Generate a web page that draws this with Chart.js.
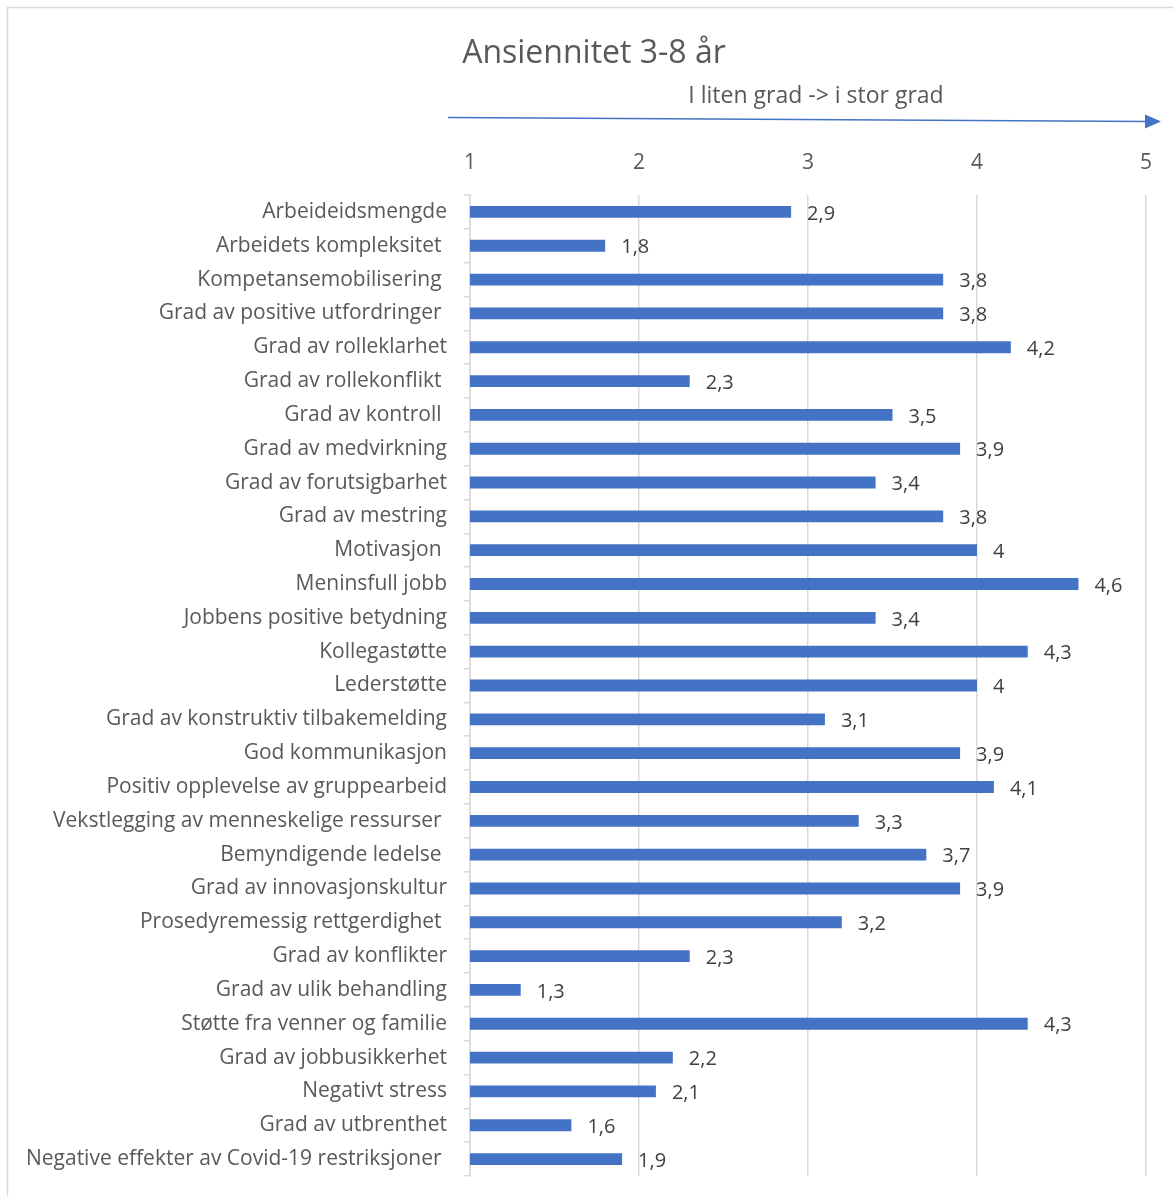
<!DOCTYPE html>
<html>
<head>
<meta charset="utf-8">
<title>Ansiennitet 3-8 år</title>
<script src="https://cdn.jsdelivr.net/npm/chart.js@4.4.0/dist/chart.umd.min.js"></script>
<style>
    html, body { margin: 0; padding: 0; background: #ffffff; }
    #wrap { position: relative; width: 1173px; height: 1196px; }
</style>
</head>
<body>
<div id="wrap"><canvas id="barChart" width="1173" height="1196"></canvas></div>
<script>
const chartTitle = 'Ansiennitet 3-8 år';
const scaleNote = 'I liten grad -> i stor grad';

// Spørsmål (trailing spaces kept as in the original labels)
const categories = [
    'Arbeideidsmengde',
    'Arbeidets kompleksitet ',
    'Kompetansemobilisering ',
    'Grad av positive utfordringer ',
    'Grad av rolleklarhet',
    'Grad av rollekonflikt ',
    'Grad av kontroll ',
    'Grad av medvirkning',
    'Grad av forutsigbarhet',
    'Grad av mestring',
    'Motivasjon ',
    'Meninsfull jobb',
    'Jobbens positive betydning',
    'Kollegastøtte',
    'Lederstøtte',
    'Grad av konstruktiv tilbakemelding',
    'God kommunikasjon',
    'Positiv opplevelse av gruppearbeid',
    'Vekstlegging av menneskelige ressurser ',
    'Bemyndigende ledelse ',
    'Grad av innovasjonskultur',
    'Prosedyremessig rettgerdighet ',
    'Grad av konflikter',
    'Grad av ulik behandling',
    'Støtte fra venner og familie',
    'Grad av jobbusikkerhet',
    'Negativt stress',
    'Grad av utbrenthet',
    'Negative effekter av Covid-19 restriksjoner '
];

const values = [2.9, 1.8, 3.8, 3.8, 4.2, 2.3, 3.5, 3.9, 3.4, 3.8, 4, 4.6, 3.4, 4.3, 4,
                3.1, 3.9, 4.1, 3.3, 3.7, 3.9, 3.2, 2.3, 1.3, 4.3, 2.2, 2.1, 1.6, 1.9];

const axisMin = 1;
const axisMax = 5;

const FONT = '"Open Sans", Lato, sans-serif';
const BLUE = '#4472C4';
const GRID = '#d9d9d9';

// ramme, tittel og pil over aksen
const decorPlugin = {
    id: 'decor',
    beforeDraw(chart) {
        const c = chart.ctx;
        c.save();
        c.strokeStyle = GRID;
        c.lineWidth = 1.5;
        c.strokeRect(7.5, 7.5, chart.width + 20, chart.height + 20);
        c.restore();
    },
    afterDraw(chart) {
        const c = chart.ctx;
        c.save();
        c.fillStyle = '#595959';
        c.textAlign = 'center';
        c.textBaseline = 'alphabetic';
        c.font = '32px ' + FONT;
        c.fillText(chartTitle, 594, 63);
        c.font = '23px ' + FONT;
        c.fillText(scaleNote, 816, 103);

        c.strokeStyle = BLUE;
        c.fillStyle = BLUE;
        c.lineWidth = 1.5;
        c.beginPath();
        c.moveTo(448, 117.5);
        c.lineTo(1148, 121.5);
        c.stroke();
        c.beginPath();
        c.moveTo(1161, 121.5);
        c.lineTo(1145, 114.5);
        c.lineTo(1145, 128.5);
        c.closePath();
        c.fill();
        c.restore();
    }
};

// verdier til høyre for hver stolpe, med desimalkomma
const valueLabels = {
    id: 'valueLabels',
    afterDatasetsDraw(chart) {
        const c = chart.ctx;
        const meta = chart.getDatasetMeta(0);
        c.save();
        c.font = '20px ' + FONT;
        c.fillStyle = '#404040';
        c.textAlign = 'left';
        c.textBaseline = 'middle';
        meta.data.forEach((bar, i) => {
            const txt = String(values[i]).replace('.', ',');
            c.fillText(txt, bar.x + 16, bar.y + 2);
        });
        c.restore();
    }
};

new Chart(document.getElementById('barChart'), {
    type: 'bar',
    data: {
        labels: categories,
        datasets: [{
            data: values,
            backgroundColor: BLUE,
            borderWidth: 0,
            categoryPercentage: 1,
            barPercentage: 0.35
        }]
    },
    options: {
        responsive: false,
        animation: false,
        indexAxis: 'y',
        layout: { padding: { top: 140, right: 27, bottom: 20, left: 0 } },
        plugins: {
            legend: { display: false },
            tooltip: { enabled: false }
        },
        scales: {
            x: {
                position: 'top',
                min: axisMin,
                max: axisMax,
                afterFit(scale) { scale.height = 55; },
                border: { display: false },
                grid: { color: GRID, lineWidth: 1.5, drawTicks: false },
                ticks: {
                    stepSize: 1,
                    padding: 19,
                    color: '#595959',
                    font: { family: FONT, size: 21 }
                }
            },
            y: {
                afterFit(scale) {
                    scale.width = 470;
                    scale.paddingTop = 0;
                    scale.paddingBottom = 0;
                },
                border: { display: true, color: GRID, width: 1.5 },
                grid: {
                    offset: true,
                    drawOnChartArea: false,
                    color: GRID,
                    lineWidth: 1.5,
                    tickLength: 6
                },
                ticks: {
                    padding: 17,
                    autoSkip: false,
                    color: '#595959',
                    font: { family: FONT, size: 21 }
                }
            }
        }
    },
    plugins: [decorPlugin, valueLabels]
});
</script>
</body>
</html>
